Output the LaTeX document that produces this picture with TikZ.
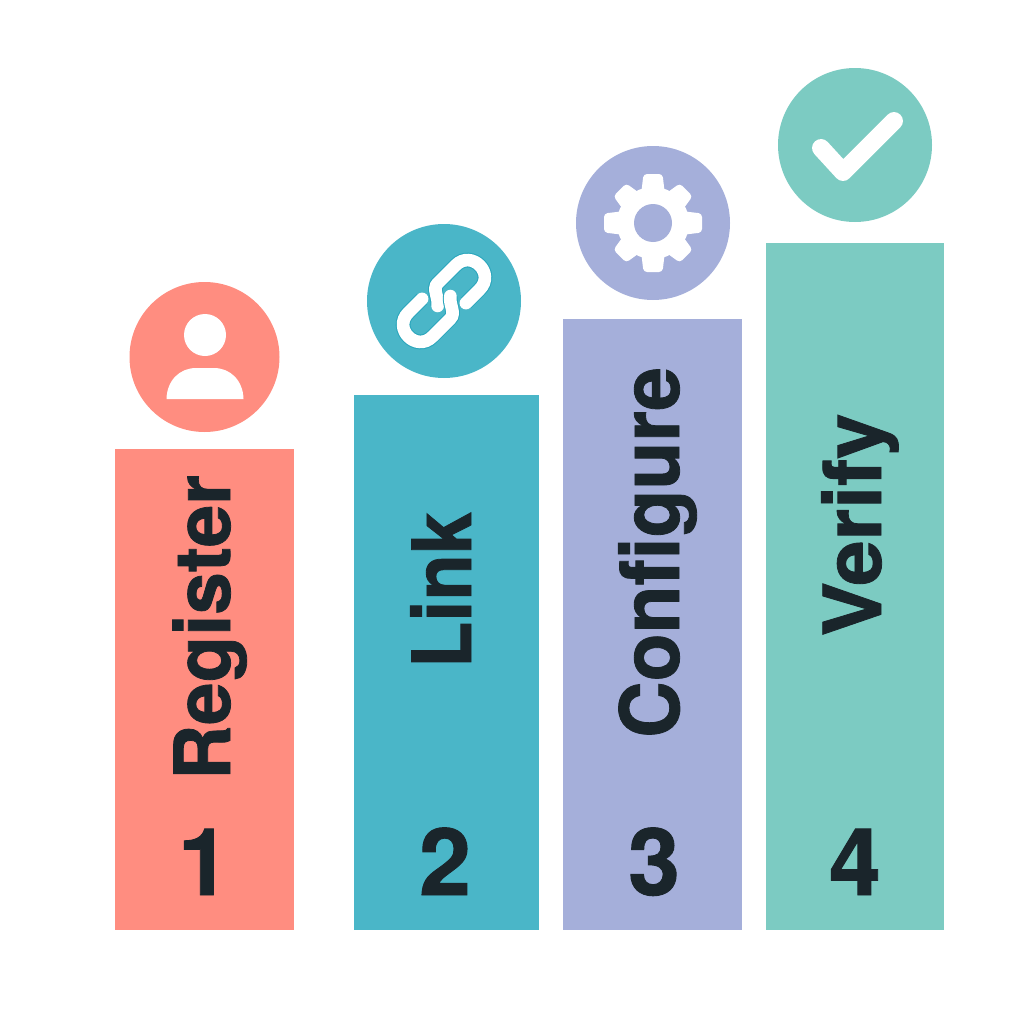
\documentclass[tikz,border=0pt]{standalone}
\usepackage{fontspec}
\setmainfont[BoldFeatures={FakeBold=1}]{TeX Gyre Heros}
\usepackage{tikz}

\definecolor{coral}{HTML}{FF8D80}
\definecolor{teal}{HTML}{4AB6C8}
\definecolor{tealdark}{HTML}{2AA6BC}
\definecolor{lavender}{HTML}{A5AFDA}
\definecolor{mint}{HTML}{7CCBC2}
\definecolor{inkdark}{HTML}{1A252B}

\newcommand{\barlabel}[3]{\scalebox{#1}[#2]{#3}}

\begin{document}
\begin{tikzpicture}[
    x=0.01cm, y=-0.01cm,
    every node/.style={inner sep=0pt, text=inkdark},
    steplabel/.style={rotate=90, anchor=base, font=\fontsize{22.76}{26}\selectfont\bfseries},
    stepnumber/.style={anchor=base, font=\fontsize{26.5}{30}\selectfont\bfseries},
    linkpart/.style={draw=white, line width=3.6pt, line cap=round,
        preaction={draw=tealdark, line width=4.2pt}}
]
\useasboundingbox (0,0) rectangle (1024,1024);

% Bars
\fill[coral]    (115,449) rectangle (294,930);
\fill[teal]     (354,395) rectangle (539,930);
\fill[lavender] (563,319) rectangle (742,930);
\fill[mint]     (766,243) rectangle (944,930);

% Labels
\node[steplabel] (register)  at (230,627.5) {\barlabel{0.953}{0.966}{Register}};
\node[steplabel] (link)      at (471,590)   {\barlabel{0.948}{1.02}{Link}};
\node[steplabel] (configure) at (679,552.5) {\barlabel{0.98}{1.02}{Configure}};
\node[steplabel] (verify)    at (881,525)   {\barlabel{1.018}{1}{Verify}};

% Numbers
\node[stepnumber] (one)   at (204,895) {1};
\node[stepnumber] (two)   at (445,895) {2};
\node[stepnumber] (three) at (654,895) {3};
\node[stepnumber] (four)  at (855,895) {4};

% Discs
\fill[coral]    (204.5,357) circle (75);
\fill[teal]     (444,301) circle (77);
\fill[lavender] (653,223) circle (77);
\fill[mint]     (855,145) circle (77);

% Person
\fill[white] (205,335) circle (21);
\fill[white] (166.5,399) .. controls (167,380) and (180,368) .. (196,368)
    -- (214,368) .. controls (230,368) and (243,380) .. (243.5,399) -- cycle;

% Chain
\begin{scope}[shift={(444,301)}, rotate=45]
  \foreach \a in {0,180} {
    \draw[linkpart, rotate=\a] (14,17) -- (33.5,17)
        .. controls (56,17) and (56,-17) .. (33.5,-17)
        -- (8,-17) .. controls (0,-17) and (-1,-6) .. (-8,-1);
  }
\end{scope}

% Gear
\begin{scope}[shift={(653,223)}]
  \fill[white] (0,0) circle (36);
  \foreach \a in {0,90,180,270}
    \fill[white, rounded corners=1pt, rotate=\a] (-12,-28) -- (-9.5,-49) -- (9.5,-49) -- (12,-28) -- cycle;
  \foreach \a in {45,135,225,315}
    \fill[white, rounded corners=1pt, rotate=\a] (-12,-28) -- (-9,-47) -- (9,-47) -- (12,-28) -- cycle;
  \fill[lavender] (0,0) circle (19);
\end{scope}

% Check
\draw[white, line width=5.1pt, line cap=round, line join=round]
    (821,148) -- (843,172) -- (894,121);

\end{tikzpicture}
\end{document}
